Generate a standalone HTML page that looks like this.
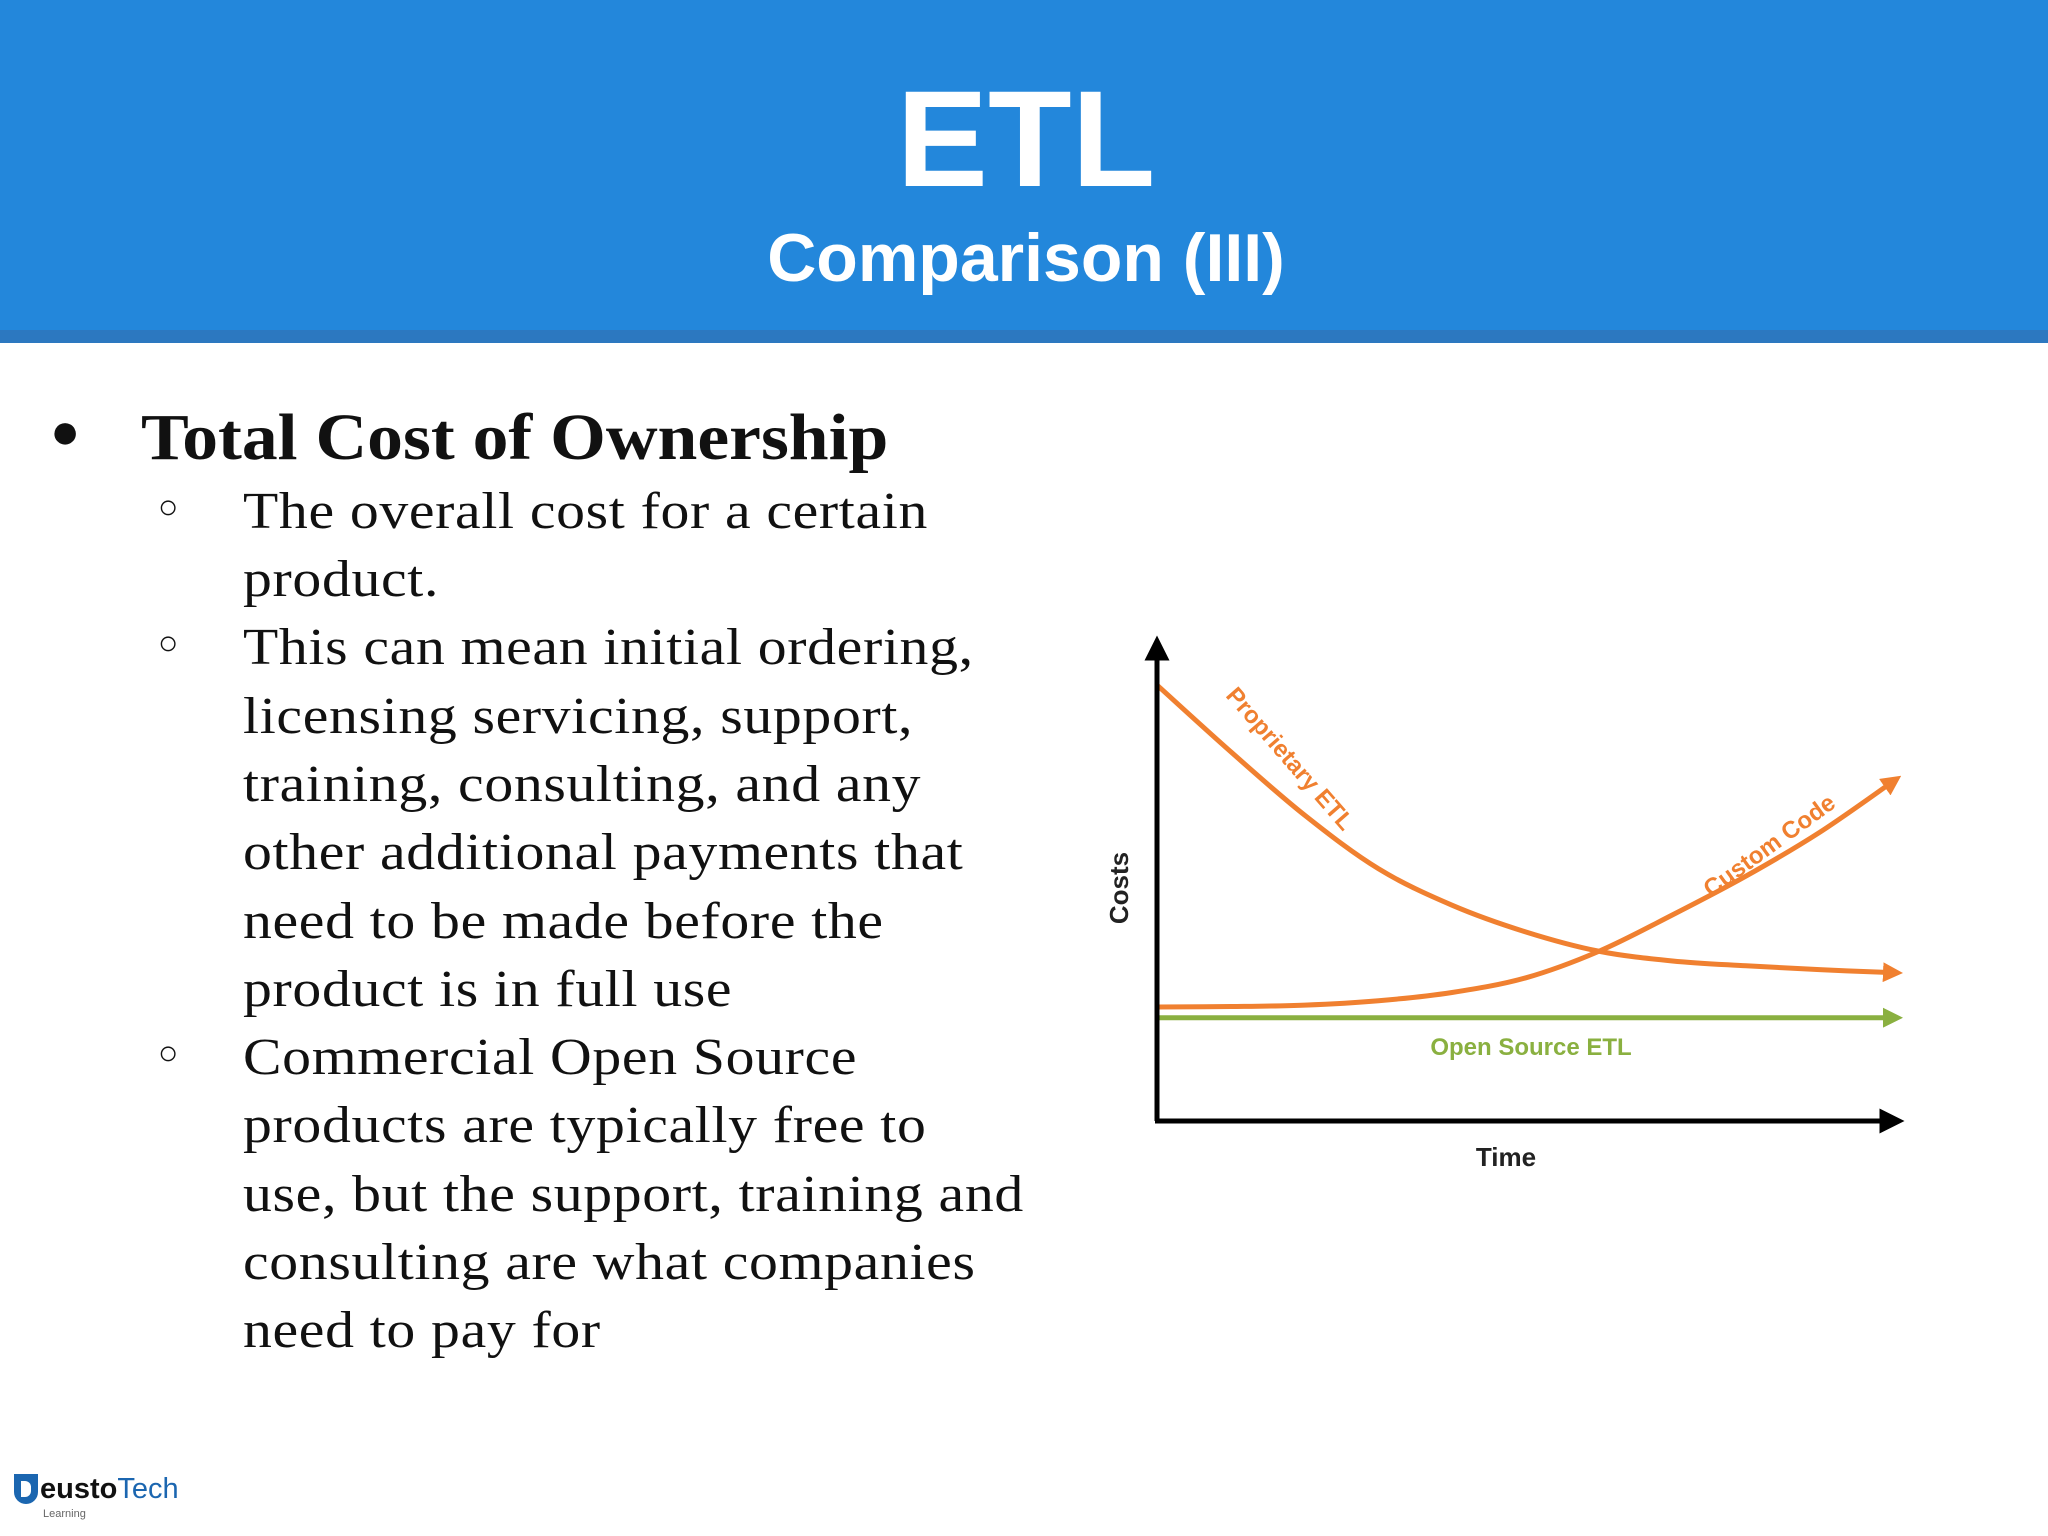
<!DOCTYPE html>
<html><head><meta charset="utf-8"><style>
body{margin:0;width:2048px;height:1536px;background:#fff;position:relative;overflow:hidden;font-family:"Liberation Sans",sans-serif}
.hdr{position:absolute;left:0;top:0;width:2048px;height:330px;background:#2387DB}
.stripe{position:absolute;left:0;top:330px;width:2048px;height:13px;background:#2C78C0}
.t{position:absolute;white-space:nowrap}
.ln{position:absolute;left:243px;font-family:"Liberation Serif",serif;font-size:52px;color:#111;white-space:nowrap;letter-spacing:0.6px;transform:scaleX(1.11);transform-origin:0 0}
.sb{position:absolute;left:158px;font-size:34px;color:#111}
</style></head><body>
<div class="hdr"></div>
<div class="stripe"></div>
<div class="t" style="left:0;width:2052px;text-align:center;top:60px;font-size:137px;font-weight:bold;color:#fff;line-height:160px">ETL</div>
<div class="t" style="left:0;width:2052px;text-align:center;top:218px;font-size:68px;font-weight:bold;color:#fff;line-height:80px">Comparison (III)</div>

<div class="t" style="left:50px;top:402px;font-size:50px;color:#111">●</div>
<div class="t" style="left:141px;top:398px;font-family:'Liberation Serif',serif;font-weight:bold;font-size:66px;color:#111;line-height:80px;transform:scaleX(1.085);transform-origin:0 0">Total Cost of Ownership</div>

<div class="sb t" style="top:488px">○</div>
<div class="sb t" style="top:624px">○</div>
<div class="sb t" style="top:1034px">○</div>

<div>
<div class="ln" style="top:482px">The overall cost for a certain</div>
<div class="ln" style="top:550px">product.</div>
<div class="ln" style="top:618px">This can mean initial ordering,</div>
<div class="ln" style="top:687px">licensing servicing, support,</div>
<div class="ln" style="top:755px">training, consulting, and any</div>
<div class="ln" style="top:823px">other additional payments that</div>
<div class="ln" style="top:892px">need to be made before the</div>
<div class="ln" style="top:960px">product is in full use</div>
<div class="ln" style="top:1028px">Commercial Open Source</div>
<div class="ln" style="top:1096px">products are typically free to</div>
<div class="ln" style="top:1165px">use, but the support, training and</div>
<div class="ln" style="top:1233px">consulting are what companies</div>
<div class="ln" style="top:1301px">need to pay for</div>
</div>

<svg id="chart" style="position:absolute;left:0;top:0" width="2048" height="1536">
<defs>
<marker id="ab" markerWidth="5" markerHeight="5" refX="2.5" refY="2.5" orient="auto" markerUnits="strokeWidth"><path d="M0,0 L5,2.5 L0,5 z" fill="#000"/></marker>
<marker id="ao" markerWidth="4" markerHeight="4" refX="2" refY="2" orient="auto" markerUnits="strokeWidth"><path d="M0,0 L4,2 L0,4 z" fill="#F08030"/></marker>
<marker id="ag" markerWidth="4" markerHeight="4" refX="2" refY="2" orient="auto" markerUnits="strokeWidth"><path d="M0,0 L4,2 L0,4 z" fill="#8AB040"/></marker>
</defs>
<g id="marks"></g>
</svg>
<script>
const timeSteps=[0,1,2,3,4,5,6,7,8,9,10];
const proprietaryEtl=[89.7,76,63,52,44.5,39,35,33,32,31.2,30.6];
const customCode=[23.5,23.6,23.9,24.8,26.5,29.5,35,42.5,50.5,59.5,70];
const openSourceEtl=[21.3,21.3,21.3,21.3,21.3,21.3,21.3,21.3,21.3,21.3,21.3];
const xs=v=>1158+v*73.5, ys=v=>1121-v*4.85;
const NS='http://www.w3.org/2000/svg';
const g=document.getElementById('marks');
function mk(tag,attrs){const e=document.createElementNS(NS,tag);for(const k in attrs)e.setAttribute(k,attrs[k]);g.appendChild(e);return e;}
function smooth(vals){const p=timeSteps.map((t,i)=>[xs(t),ys(vals[i])]);let d='M'+p[0][0]+','+p[0][1];
for(let i=0;i<p.length-1;i++){const p0=p[Math.max(0,i-1)],p1=p[i],p2=p[i+1],p3=p[Math.min(p.length-1,i+2)];
d+=' C'+(p1[0]+(p2[0]-p0[0])/6)+','+(p1[1]+(p2[1]-p0[1])/6)+' '+(p2[0]-(p3[0]-p1[0])/6)+','+(p2[1]-(p3[1]-p1[1])/6)+' '+p2[0]+','+p2[1];}return d;}
let e;
e=mk('path',{d:smooth(openSourceEtl),stroke:'#8AB040','stroke-width':5,fill:'none','marker-end':'url(#ag)'});


e=mk('path',{d:smooth(proprietaryEtl),stroke:'#F08030','stroke-width':5,fill:'none','marker-end':'url(#ao)'});


e=mk('path',{d:smooth(customCode),stroke:'#F08030','stroke-width':5,fill:'none','marker-end':'url(#ao)'});


e=mk('line',{x1:1157,y1:1121,x2:1157,y2:648,stroke:'#000','stroke-width':5,'marker-end':'url(#ab)'});


e=mk('line',{x1:1155,y1:1121,x2:1892,y2:1121,stroke:'#000','stroke-width':5,'marker-end':'url(#ab)'});


function txt(s,x,y,rot,fill,size,name){const t=mk('text',{x:x,y:y,fill:fill,'font-size':size,'font-weight':'bold','text-anchor':'middle','font-family':'Liberation Sans, sans-serif',transform:'rotate('+rot+' '+x+' '+y+')'});t.textContent=s;

}
txt('Costs',1128,888,-90,'#222',26,'y-axis-title');
txt('Time',1506,1166,0,'#222',26,'x-axis-title');
txt('Open Source ETL',1531,1055,0,'#8AB040',24,'open-source-etl-label');
txt('Proprietary ETL',1284,764,49,'#F08030',24,'proprietary-etl-label');
txt('Custom Code',1774,852,-36,'#F08030',24,'custom-code-label');
</script>

<div style="position:absolute;left:14px;top:1472px;width:180px;height:50px">
<div style="position:absolute;left:0;top:2px;width:24px;height:30px;background:#1B66B0;border-radius:0 0 12px 12px"></div>
<div style="position:absolute;left:7px;top:9px;width:10px;height:16px;background:#fff;border-radius:0 6px 6px 0"></div>
<div class="t" style="left:26px;top:0;font-size:29px;line-height:34px"><b style="color:#111">eusto</b><span style="color:#1B66B0">Tech</span></div>
<div class="t" style="left:29px;top:36px;font-size:11px;color:#666">Learning</div>
</div>
</body></html>
